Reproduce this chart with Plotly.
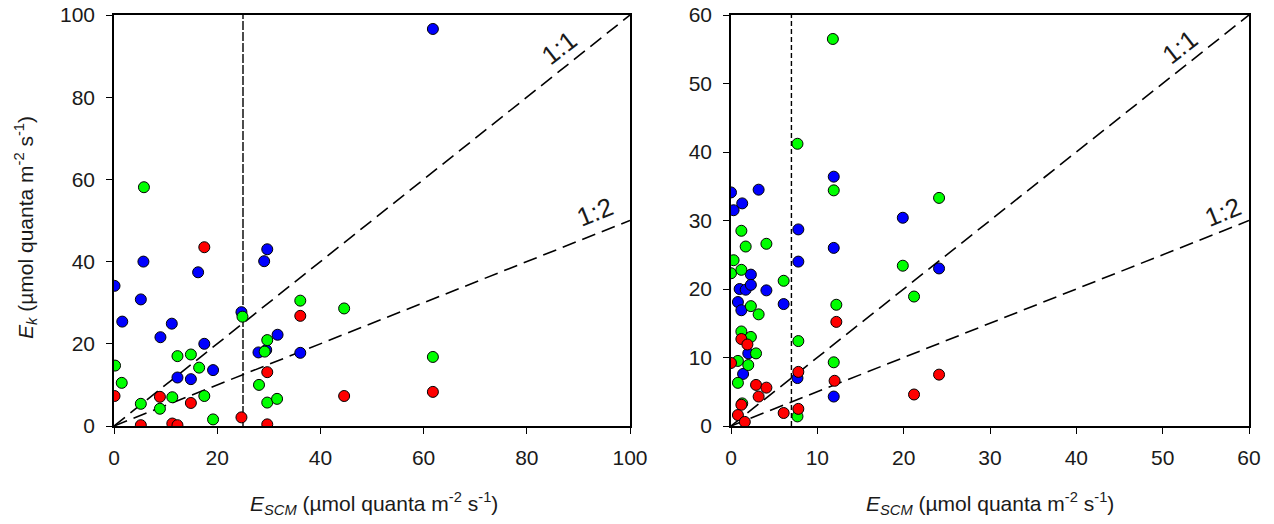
import plotly.graph_objects as go

# ---------------- data ----------------
# Left panel
L_blue_x = [0.1, 1.6, 5.7, 5.2, 11.2, 9.0, 16.3, 17.5, 12.3, 14.9, 19.2, 24.7, 29.7, 29.1, 31.7, 28.0, 29.5, 36.1, 61.8]
L_blue_y = [34.1, 25.4, 40.0, 30.8, 24.9, 21.6, 37.4, 20.0, 11.8, 11.4, 13.6, 27.7, 43.0, 40.1, 22.2, 17.9, 18.5, 17.8, 96.6]
L_green_x = [5.8, 0.2, 1.5, 12.3, 14.9, 16.5, 5.2, 8.9, 11.3, 17.5, 19.2, 24.9, 36.1, 44.6, 29.7, 29.2, 28.1, 29.7, 31.6, 61.8]
L_green_y = [58.1, 14.7, 10.5, 17.0, 17.4, 14.2, 5.4, 4.2, 7.0, 7.3, 1.6, 26.6, 30.5, 28.6, 20.9, 18.1, 10.0, 5.7, 6.6, 16.8]
L_red_x = [0.1, 5.2, 8.9, 11.3, 12.3, 14.9, 17.5, 24.7, 29.7, 29.7, 36.1, 44.6, 61.8]
L_red_y = [7.3, 0.2, 7.1, 0.6, 0.2, 5.6, 43.5, 2.1, 13.1, 0.4, 26.8, 7.3, 8.3]

# Right panel
R_blue_x = [0.0, 0.3, 1.3, 3.2, 1.0, 1.7, 2.3, 2.3, 0.8, 1.2, 4.1, 6.1, 2.0, 1.4, 7.8, 7.8, 7.7, 11.9, 11.9, 11.9, 19.9, 24.1]
R_blue_y = [34.1, 31.5, 32.5, 34.5, 20.0, 19.9, 22.1, 20.6, 18.1, 16.9, 19.8, 17.8, 10.6, 7.6, 28.7, 24.0, 7.0, 36.4, 26.0, 4.3, 30.4, 23.0]
R_green_x = [11.8, 7.7, 11.9, 12.2, 11.9, 7.8, 7.7, 6.1, 4.1, 1.2, 1.7, 0.3, 0.0, 1.2, 2.3, 3.2, 1.2, 2.3, 2.9, 0.8, 2.0, 0.8, 1.3, 24.1, 19.9, 21.2]
R_green_y = [56.5, 41.2, 34.4, 17.7, 9.3, 12.4, 1.4, 21.2, 26.6, 28.5, 26.2, 24.2, 22.3, 22.8, 17.5, 16.3, 13.8, 13.0, 10.6, 9.5, 8.9, 6.3, 3.3, 33.3, 23.4, 18.9]
R_red_x = [0.0, 1.2, 1.9, 2.9, 4.1, 3.2, 1.2, 0.8, 1.6, 6.1, 7.8, 7.8, 12.2, 12.0, 24.1, 21.2]
R_red_y = [9.2, 12.7, 11.9, 6.0, 5.6, 4.3, 3.1, 1.6, 0.6, 1.9, 7.9, 2.5, 15.2, 6.6, 7.5, 4.6]

ratios = [1.0, 0.5]
ratio_labels = ["1:1", "1:2"]
L_max, R_max = 100, 60
L_threshold, R_threshold = 25, 7
L_ticks = [0, 20, 40, 60, 80, 100]
R_ticks = [0, 10, 20, 30, 40, 50, 60]

# ---------------- figure ----------------
W, H = 1274, 524
fig = go.Figure()

marker_style = dict(size=11, line=dict(color="black", width=1))
colors = {"blue": "#0000FF", "green": "#00FF00", "red": "#FF0000"}

def add_panel(xa, ya, xmax, thr, series, dash_thr):
    # ratio lines
    for r in ratios:
        fig.add_trace(go.Scatter(x=[0, xmax], y=[0, xmax * r], mode="lines",
                                 line=dict(color="black", width=1.6, dash="14px,7px"),
                                 xaxis=xa, yaxis=ya, showlegend=False, hoverinfo="skip"))
    # threshold line
    fig.add_trace(go.Scatter(x=[thr, thr], y=[0, xmax], mode="lines",
                             line=dict(color="black", width=1.4, dash=dash_thr),
                             xaxis=xa, yaxis=ya, showlegend=False, hoverinfo="skip"))
    for col, (xs, ys) in series:
        fig.add_trace(go.Scatter(x=xs, y=ys, mode="markers",
                                 marker=dict(color=colors[col], **marker_style),
                                 xaxis=xa, yaxis=ya, showlegend=False))

add_panel("x", "y", L_max, L_threshold,
          [("blue", (L_blue_x, L_blue_y)), ("green", (L_green_x, L_green_y)), ("red", (L_red_x, L_red_y))],
          "9px,2px")
add_panel("x2", "y2", R_max, R_threshold,
          [("blue", (R_blue_x, R_blue_y)), ("green", (R_green_x, R_green_y)), ("red", (R_red_x, R_red_y))],
          "5px,3px")

y_dom = [1 - 426 / H, 1 - 15 / H]
tick_font = dict(family="Liberation Sans, Arial", size=21, color="#1a1a1a")
axis_common = dict(showline=True, linecolor="black", linewidth=1.6, mirror=True,
                   ticks="outside", ticklen=6, tickwidth=1.4, tickcolor="black",
                   showgrid=False, zeroline=False, automargin=False, tickfont=tick_font)

fig.update_layout(
    width=W, height=H,
    margin=dict(l=0, r=0, t=0, b=0),
    paper_bgcolor="white", plot_bgcolor="white",
    showlegend=False,
    xaxis=dict(domain=[114 / W, 630 / W], range=[0, L_max], tickvals=L_ticks, anchor="y",
               ticklabelstandoff=6, **axis_common),
    yaxis=dict(domain=y_dom, range=[0, L_max], tickvals=L_ticks, anchor="x",
               ticklabelstandoff=7, **axis_common),
    xaxis2=dict(domain=[731 / W, 1249 / W], range=[0, R_max], tickvals=R_ticks, anchor="y2",
                ticklabelstandoff=6, **axis_common),
    yaxis2=dict(domain=y_dom, range=[0, R_max], tickvals=R_ticks, anchor="x2",
                ticklabelstandoff=7, **axis_common),
)

title_font = dict(family="Liberation Sans, Arial", size=21, color="#1a1a1a")
xtitle = "<i>E<sub>SCM</sub></i> (µmol quanta m<sup>-2</sup> s<sup>-1</sup>)"
ytitle = "<i>E<sub>k</sub></i> (µmol quanta m<sup>-2</sup> s<sup>-1</sup>)"
fig.add_annotation(text=xtitle, x=374 / W, y=1 - 503 / H, xref="paper", yref="paper",
                   showarrow=False, font=title_font, xanchor="center", yanchor="middle")
fig.add_annotation(text=xtitle, x=990 / W, y=1 - 503 / H, xref="paper", yref="paper",
                   showarrow=False, font=title_font, xanchor="center", yanchor="middle")
fig.add_annotation(text=ytitle, x=26 / W, y=1 - 228 / H, xref="paper", yref="paper",
                   showarrow=False, font=title_font, textangle=-90, xanchor="center", yanchor="middle")

# ratio-line labels
lbl_font = dict(family="Liberation Sans, Arial", size=26, color="#1a1a1a")
fig.add_annotation(text=ratio_labels[0], x=86.2, y=92, xref="x", yref="y", showarrow=False, font=lbl_font, textangle=-38)
fig.add_annotation(text=ratio_labels[1], x=93.2, y=52, xref="x", yref="y", showarrow=False, font=lbl_font, textangle=-22)
fig.add_annotation(text=ratio_labels[0], x=52, y=55.3, xref="x2", yref="y2", showarrow=False, font=lbl_font, textangle=-38)
fig.add_annotation(text=ratio_labels[1], x=57, y=31.2, xref="x2", yref="y2", showarrow=False, font=lbl_font, textangle=-22)

fig.write_html("out.html")
